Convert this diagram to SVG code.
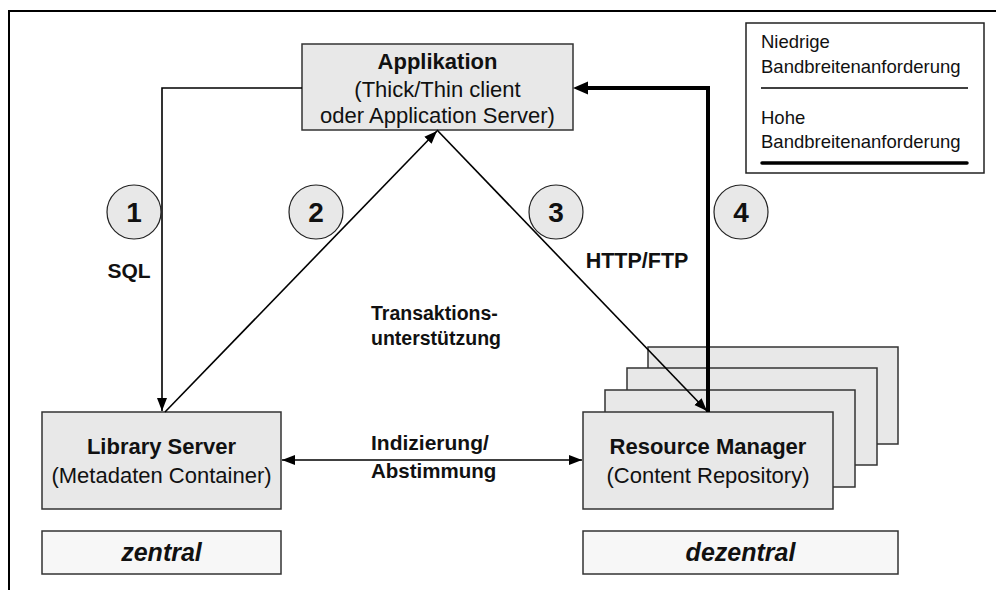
<svg xmlns="http://www.w3.org/2000/svg" width="996" height="590" viewBox="0 0 996 590">
<defs>
<style>
.t{font-family:"Liberation Sans",Arial,sans-serif;fill:#111}
.b{font-weight:bold}
.box{fill:#e8e8e8;stroke:#333;stroke-width:1.5}
.lbl{fill:#f7f7f7;stroke:#333;stroke-width:1.5}
.num{fill:#e8e8e8;stroke:#222;stroke-width:1.2}
.ln{fill:none;stroke:#000;stroke-width:1.6}
.thick{fill:none;stroke:#000;stroke-width:4}
</style>
<marker id="a" markerUnits="userSpaceOnUse" markerWidth="14" markerHeight="12" refX="13" refY="5" orient="auto-start-reverse" viewBox="0 0 14 10">
<path d="M0,0 L13,5 L0,10 z" fill="#000"/>
</marker>
</defs>
<rect width="996" height="590" fill="#fff"/>
<path d="M9,590 V11 H996" fill="none" stroke="#000" stroke-width="2"/>

<g id="legend">
<rect x="746" y="23" width="238" height="150" fill="#fff" stroke="#222" stroke-width="1.5"/>
<text class="t" x="761" y="48" font-size="18.5">Niedrige</text>
<text class="t" x="761" y="73" font-size="18.5">Bandbreitenanforderung</text>
<line x1="761" y1="88" x2="968" y2="88" stroke="#000" stroke-width="1.3"/>
<text class="t" x="761" y="124" font-size="18.5">Hohe</text>
<text class="t" x="761" y="148" font-size="18.5">Bandbreitenanforderung</text>
<line x1="762" y1="163" x2="967" y2="163" stroke="#000" stroke-width="3.5" stroke-linecap="round"/>
</g>

<g id="app">
<rect class="box" x="302" y="44" width="271" height="86"/>
<text class="t b" x="437.5" y="69" font-size="22" text-anchor="middle">Applikation</text>
<text class="t" x="437.5" y="97" font-size="22" text-anchor="middle">(Thick/Thin client</text>
<text class="t" x="437.5" y="123" font-size="22" text-anchor="middle">oder Application Server)</text>
</g>

<g id="library">
<rect class="box" x="42" y="412" width="239" height="97"/>
<text class="t b" x="161.5" y="454" font-size="22" text-anchor="middle">Library Server</text>
<text class="t" x="161.5" y="483" font-size="22" text-anchor="middle">(Metadaten Container)</text>
</g>

<g id="resource">
<rect class="box" x="648" y="347" width="250" height="97"/>
<rect class="box" x="627" y="368" width="250" height="97"/>
<rect class="box" x="605" y="390" width="250" height="97"/>
<rect class="box" x="583" y="412" width="250" height="97"/>
<text class="t b" x="708" y="454" font-size="22" text-anchor="middle">Resource Manager</text>
<text class="t" x="708" y="483" font-size="22" text-anchor="middle">(Content Repository)</text>
</g>

<g id="zentral">
<rect class="lbl" x="42" y="531" width="239" height="43"/>
<text class="t b" x="161.5" y="561" font-size="25" font-style="italic" text-anchor="middle">zentral</text>
</g>
<g id="dezentral">
<rect class="lbl" x="583" y="531" width="315" height="43"/>
<text class="t b" x="740.5" y="561" font-size="25" font-style="italic" text-anchor="middle">dezentral</text>
</g>

<g id="connectors">
<path class="ln" d="M302,88 H162 V411" marker-end="url(#a)"/>
<path class="ln" d="M165,412 L437,131" marker-end="url(#a)"/>
<path class="ln" d="M437,130 L707,411" marker-end="url(#a)"/>
<path class="thick" d="M708,412 V88 H580"/>
<path d="M573,88 L588,81.5 L588,94.5 z" fill="#000"/>
<path class="ln" d="M282,460 H582" marker-start="url(#a)" marker-end="url(#a)"/>
<text class="t b" x="129" y="278" font-size="21" text-anchor="middle">SQL</text>
<text class="t b" x="637" y="268" font-size="21.5" text-anchor="middle">HTTP/FTP</text>
<text class="t b" x="371" y="320" font-size="19.5">Transaktions-</text>
<text class="t b" x="371" y="345" font-size="19.5">unterstützung</text>
<text class="t b" x="371" y="450" font-size="21">Indizierung/</text>
<text class="t b" x="371" y="478" font-size="20.5">Abstimmung</text>
</g>

<g id="step1"><circle class="num" cx="134" cy="212" r="27"/><text class="t b" x="134" y="222" font-size="28" text-anchor="middle">1</text></g>
<g id="step2"><circle class="num" cx="316" cy="212" r="27"/><text class="t b" x="316" y="222" font-size="28" text-anchor="middle">2</text></g>
<g id="step3"><circle class="num" cx="556" cy="212" r="27"/><text class="t b" x="556" y="222" font-size="28" text-anchor="middle">3</text></g>
<g id="step4"><circle class="num" cx="741" cy="212" r="27"/><text class="t b" x="741" y="222" font-size="28" text-anchor="middle">4</text></g>
</svg>
